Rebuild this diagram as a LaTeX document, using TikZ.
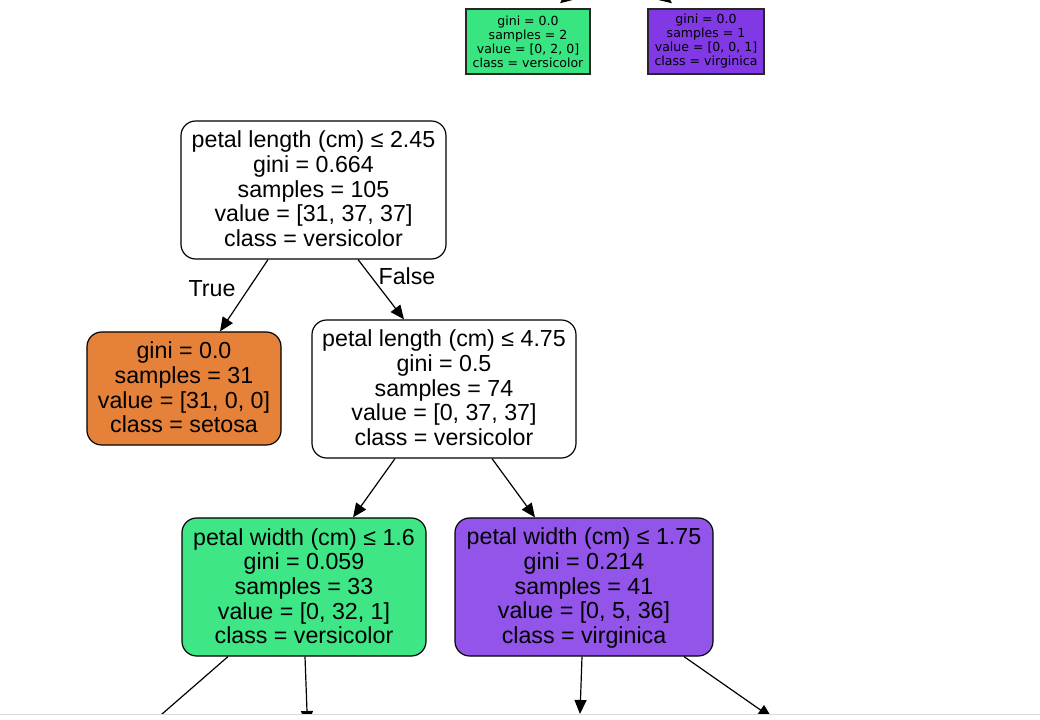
\documentclass[tikz,border=0pt]{standalone}
\usepackage{fontspec}
\setmainfont{Liberation Sans}
\newfontfamily\smallfont{DejaVu Sans}
\usetikzlibrary{arrows.meta}
\definecolor{orangeleaf}{HTML}{E58139}
\definecolor{greennode}{HTML}{3FE685}
\definecolor{purplenode}{HTML}{9254E9}
\definecolor{greenleaf}{HTML}{39E581}
\definecolor{purpleleaf}{HTML}{8139E5}
\definecolor{frame}{HTML}{D9D9D9}
\newcommand{\nodetop}{\rule{0pt}{14.5pt}}
\newcommand{\nodebot}{\rule[-3.5pt]{0pt}{3.5pt}}
\tikzset{
  treenode/.style={draw=black, line width=0.9pt, rounded corners=11pt, align=center,
    inner sep=0pt, font=\fontsize{17.4}{18.5}\selectfont},
  smallleaf/.style={draw=black!85, line width=1.1pt, align=center, inner sep=0pt,
    font=\smallfont\fontsize{9.4}{10.5}\selectfont},
  edge/.style={line width=0.9pt, -{Triangle[length=10.5pt,width=9pt]}},
  elabel/.style={font=\fontsize{17.4}{18.5}\selectfont}
}
\begin{document}
\begin{tikzpicture}[x=0.75pt,y=-0.75pt]
\useasboundingbox (0,0) rectangle (1040,720);
\fill[white] (0,0) rectangle (1040,720);
\begin{scope}
\clip (0,0) rectangle (1040,714);
% small leaves at top
\node[smallleaf, fill=greenleaf, minimum width=93pt, minimum height=48.75pt] (sg) at (528,41.5)
  {gini = 0.0\\samples = 2\\value = [0, 2, 0]\\class = versicolor};
\node[smallleaf, fill=purpleleaf, minimum width=87pt, minimum height=48.75pt] (sp) at (706,41.5)
  {gini = 0.0\\samples = 1\\value = [0, 0, 1]\\class = virginica};
\coordinate (ptop) at (615,-40);
\draw[edge] (ptop) -- ([xshift=24pt,yshift=3.75pt]sg.north);
\draw[edge] (ptop) -- ([xshift=-25.5pt,yshift=3.75pt]sp.north);
% main tree
\node[treenode, fill=white, minimum width=198.75pt, minimum height=103.5pt] (root) at (313.5,190)
  {\nodetop petal length (cm) ≤ 2.45\\gini = 0.664\\samples = 105\\value = [31, 37, 37]\\class = versicolor\nodebot};
\node[treenode, fill=orangeleaf, minimum width=145.5pt, minimum height=84.75pt] (leafo) at (184,388.5)
  {\nodetop gini = 0.0\\samples = 31\\value = [31, 0, 0]\\class = setosa\nodebot};
\node[treenode, fill=white, minimum width=198pt, minimum height=103.5pt] (n2) at (444,389)
  {\nodetop petal length (cm) ≤ 4.75\\gini = 0.5\\samples = 74\\value = [0, 37, 37]\\class = versicolor\nodebot};
\node[treenode, fill=greennode, minimum width=183pt, minimum height=103.5pt] (ng) at (304,587)
  {\nodetop petal width (cm) ≤ 1.6\\gini = 0.059\\samples = 33\\value = [0, 32, 1]\\class = versicolor\nodebot};
\node[treenode, fill=purplenode, minimum width=193.5pt, minimum height=103.5pt] (np) at (584,587)
  {\nodetop petal width (cm) ≤ 1.75\\gini = 0.214\\samples = 41\\value = [0, 5, 36]\\class = virginica\nodebot};
\draw[edge] ([xshift=-34.1pt]root.south) -- ([xshift=27pt]leafo.north);
\draw[edge] ([xshift=33.4pt]root.south) -- ([xshift=-30pt]n2.north);
\node[elabel] (tl) at (212,289) {True};
\node[elabel] (fl) at (407,276) {False};
\draw[edge] ([xshift=-36.75pt]n2.south) -- ([xshift=36.75pt]ng.north);
\draw[edge] ([xshift=36pt]n2.south) -- ([xshift=-36.75pt]np.north);
% children below the visible frame
\coordinate (c1) at (146,728);
\coordinate (c2) at (307.5,725);
\coordinate (c3) at (580,714);
\coordinate (c4) at (772,718);
\draw[edge] ([xshift=-57pt]ng.south) -- (c1);
\draw[edge] ([xshift=0.75pt]ng.south) -- (c2);
\draw[edge] ([xshift=-1.5pt]np.south) -- (c3);
\draw[edge] ([xshift=75pt]np.south) -- (c4);
\end{scope}
\draw[frame, line width=1.2pt] (0,714.5) -- (1040,714.5);
\end{tikzpicture}
\end{document}
